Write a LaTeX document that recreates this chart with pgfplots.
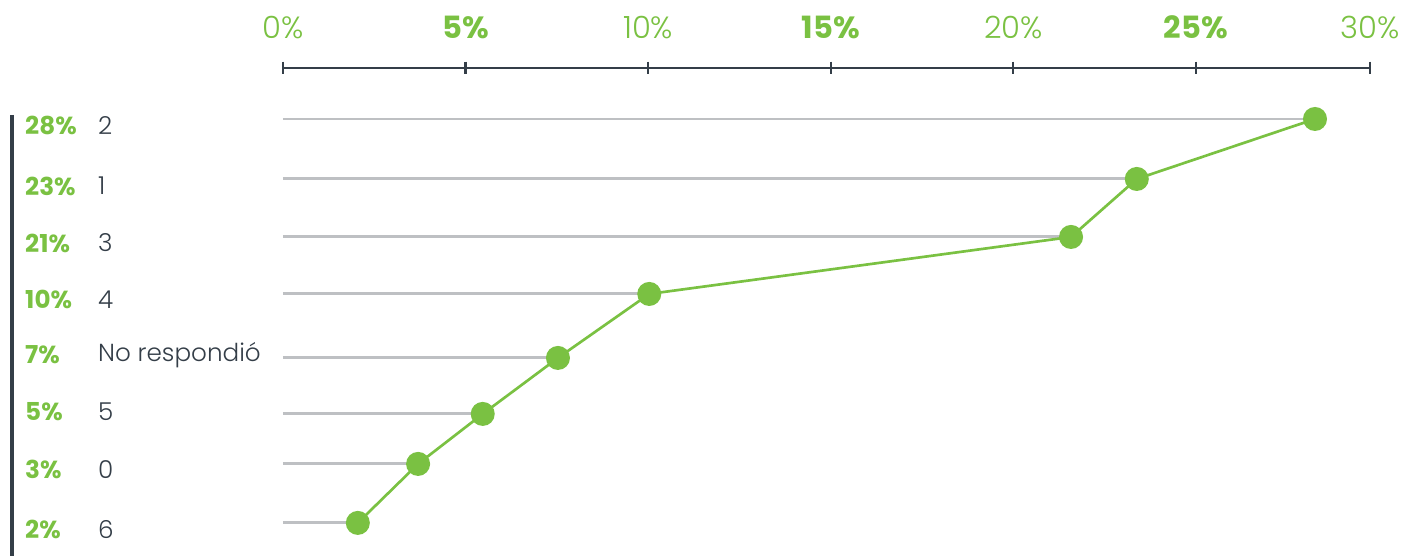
\documentclass[border=0pt]{standalone}
\usepackage{pgfplots}
\pgfplotsset{compat=1.18}
\usepackage{fontspec}
\setmainfont{Poppins}[UprightFont=*-Light, BoldFont=*-Bold]
\definecolor{vgreen}{RGB}{122,193,66}
\definecolor{dark}{RGB}{52,62,72}
\definecolor{lgray}{RGB}{190,192,195}
\begin{document}
\begin{tikzpicture}[x=1pt,y=1pt,
  pc/.style={anchor=west, text=vgreen, font=\fontsize{18.5}{20}\selectfont\bfseries, inner sep=0pt},
  cat/.style={anchor=west, text=dark, font=\fontsize{18.5}{20}\selectfont, inner sep=0pt}]
\begin{axis}[
  scale only axis,
  width=815.25pt, height=366pt,
  xmin=0, xmax=29.76, ymin=-556, ymax=-68,
  clip=false,
  axis y line=none,
  axis x line*=top,
  x axis line style={dark, line width=2.2pt, -},
  xtick={0,5,10,15,20,25,29.76},
  xticklabels={0\%,\textbf{5\%},10\%,\textbf{15\%},20\%,\textbf{25\%},30\%},
  xticklabel style={font=\fontsize{23}{25}\selectfont, text=vgreen, anchor=base, inner sep=0pt, yshift=17pt},
  xticklabel pos=top,
  major tick length=9.5pt,
  tick align=center,
  x tick style={dark, line width=1.7pt},
]
% bounding box equal to reference
\path (axis cs:-7.749,0) rectangle (axis cs:30.67,-556);
% left vertical line
\draw[dark, line width=2.3pt] (axis cs:-7.42,-115) -- (axis cs:-7.42,-556);
% gray stems
\addplot[xcomb, lgray, line width=2.2pt, mark=none] coordinates {
(28.26,-119) (23.38,-179) (21.58,-237) (10.03,-294) (7.53,-358) (5.47,-414) (3.70,-464) (2.05,-523)};
% green line
\addplot[vgreen, line width=2pt, mark=*, mark size=8pt, mark options={fill=vgreen, draw=vgreen}] coordinates {
(28.26,-119) (23.38,-179) (21.58,-237) (10.03,-294) (7.53,-358) (5.47,-414) (3.70,-464) (2.05,-523)};
% left labels
\node[pc] at (axis cs:-7.065,-126) {28\%}; \node[cat] at (axis cs:-5.066,-126) {2};
\node[pc] at (axis cs:-7.065,-186) {23\%}; \node[cat] at (axis cs:-5.066,-186) {1};
\node[pc] at (axis cs:-7.065,-243) {21\%}; \node[cat] at (axis cs:-5.066,-243) {3};
\node[pc] at (axis cs:-7.065,-300) {10\%}; \node[cat] at (axis cs:-5.066,-300) {4};
\node[pc] at (axis cs:-7.065,-355) {7\%};  \node[cat] at (axis cs:-5.066,-355) {No respondió};
\node[pc] at (axis cs:-7.065,-412) {5\%};  \node[cat] at (axis cs:-5.066,-412) {5};
\node[pc] at (axis cs:-7.065,-470) {3\%};  \node[cat] at (axis cs:-5.066,-470) {0};
\node[pc] at (axis cs:-7.065,-530) {2\%};  \node[cat] at (axis cs:-5.066,-530) {6};
\end{axis}
\end{tikzpicture}
\end{document}
